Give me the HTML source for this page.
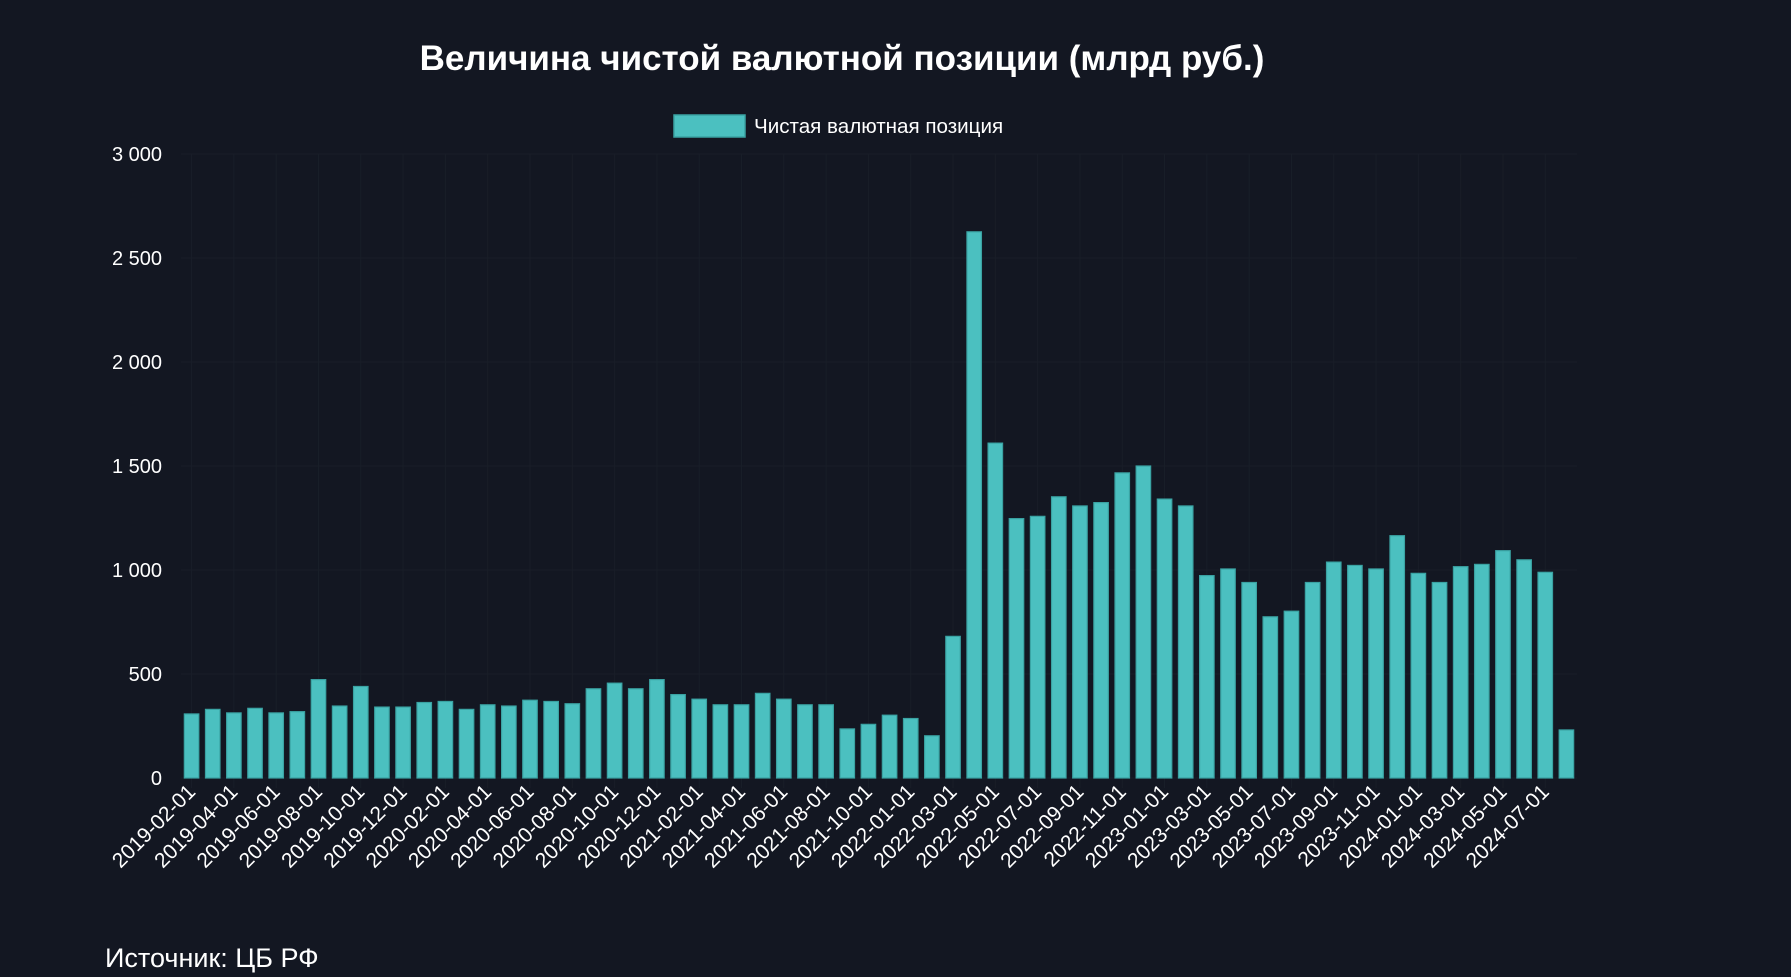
<!DOCTYPE html>
<html><head><meta charset="utf-8"><style>
html,body{margin:0;padding:0;background:#131722;}
svg{display:block;font-family:"Liberation Sans",Arial,sans-serif;}
</style></head><body>
<svg width="1791" height="977" viewBox="0 0 1791 977" xmlns="http://www.w3.org/2000/svg">
<rect width="1791" height="977" fill="#131722"/>
<text x="842" y="70" fill="#fff" font-size="35" font-weight="bold" text-anchor="middle">Величина чистой валютной позиции (млрд руб.)</text>
<rect x="674" y="115" width="71" height="22" fill="#4bc0c0" stroke="#3aa3a3" stroke-width="1.5"/>
<text x="754" y="133" fill="#fff" font-size="20.6">Чистая валютная позиция</text>
<g id="g"></g>
<text x="105" y="967" fill="#fff" font-size="27">Источник: ЦБ РФ</text>
</svg>
<script>
var v=[308,330,313,335,313,319,473,346,440,341,341,363,368,330,352,346,374,368,357,429,456,429,473,401,379,352,352,407,379,352,352,236,258,302,286,203,681,2626,1610,1247,1258,1352,1308,1324,1467,1500,1341,1308,973,1005,940,775,802,940,1038,1022,1005,1165,984,940,1016,1027,1093,1049,989,231];
var L=["2019-02-01","2019-04-01","2019-06-01","2019-08-01","2019-10-01","2019-12-01","2020-02-01","2020-04-01","2020-06-01","2020-08-01","2020-10-01","2020-12-01","2021-02-01","2021-04-01","2021-06-01","2021-08-01","2021-10-01","2022-01-01","2022-03-01","2022-05-01","2022-07-01","2022-09-01","2022-11-01","2023-01-01","2023-03-01","2023-05-01","2023-07-01","2023-09-01","2023-11-01","2024-01-01","2024-03-01","2024-05-01","2024-07-01"];
var x0=181,W=1396,n=v.length,cw=W/n,y0=778,yt=154,k=(y0-yt)/3000,s="";
for(var t=0;t<=3000;t+=500){var y=y0-t*k;
s+='<line x1="'+x0+'" x2="'+(x0+W)+'" y1="'+y+'" y2="'+y+'" stroke="#191e28" stroke-width="1"/>';
s+='<text x="162" y="'+(y+7)+'" fill="#fff" font-size="20" text-anchor="end">'+(t>=1000?Math.floor(t/1000)+' '+String(t%1000).padStart(3,'0'):t)+'</text>';}
for(var i=0;i<n;i+=2){var cx=x0+cw*(i+0.5);
s+='<line x1="'+cx+'" x2="'+cx+'" y1="'+yt+'" y2="'+(y0+10)+'" stroke="#191e28" stroke-width="1"/>';}
for(var i=0;i<n;i++){var cx=x0+cw*(i+0.5),h=v[i]*k,bw=14.5;
s+='<rect x="'+(cx-bw/2)+'" y="'+(y0-h)+'" width="'+bw+'" height="'+h+'" fill="#4bc0c0" stroke="#3aa3a3" stroke-width="1.2"/>';}
for(var j=0;j<L.length;j++){var cx=x0+cw*(2*j+0.5)+5;
s+='<text transform="translate('+cx+',793) rotate(-45)" fill="#fff" font-size="21" text-anchor="end">'+L[j]+'</text>';}
document.getElementById('g').innerHTML=s;
</script>
</body></html>
